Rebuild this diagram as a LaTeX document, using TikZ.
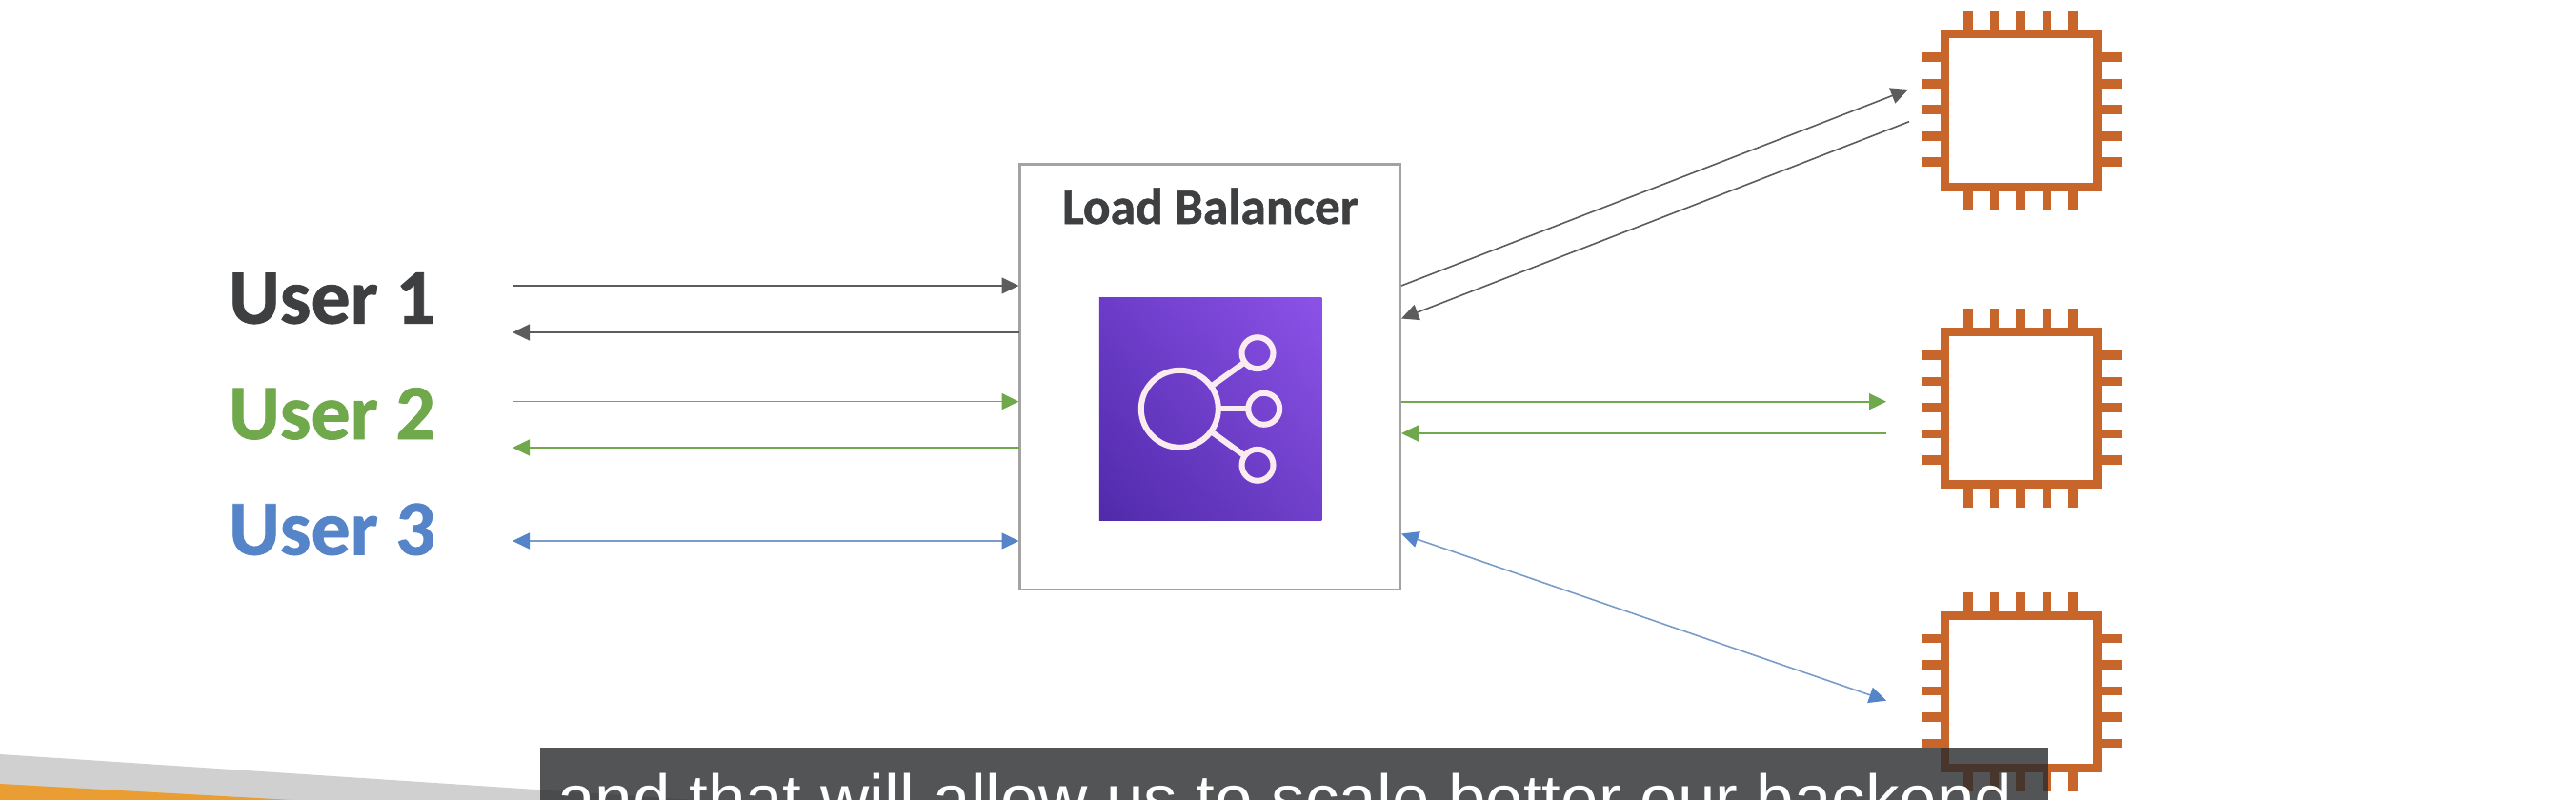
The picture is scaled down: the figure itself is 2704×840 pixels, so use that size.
\documentclass[tikz,border=0pt]{standalone}
\usepackage{fontspec}
\setmainfont{Liberation Sans}
\newfontfamily\carlito[BoldFeatures={FakeBold=1}]{Carlito}
\usetikzlibrary{arrows.meta,shadings}
\definecolor{inkdark}{HTML}{3E3F41}
\definecolor{inkgreen}{HTML}{70A84C}
\definecolor{inkblue}{HTML}{5585C8}
\definecolor{chiporange}{HTML}{C7652A}
\definecolor{boxgray}{HTML}{A3A3A3}
\definecolor{linedark}{HTML}{5C5C5C}
\definecolor{lineblue}{HTML}{7A9CC8}
\definecolor{capgray}{HTML}{292A2C}
\definecolor{bandgray}{HTML}{D0D0D0}
\definecolor{bandorange}{HTML}{E99D33}
\tikzset{
  x=1pt,y=-1pt,
  userlabel/.style={anchor=base west,inner sep=0pt,font=\carlito\bfseries\fontsize{82}{82}\selectfont},
  arr/.style={line width=1.6pt,arrows={-Triangle[length=18pt,width=17pt]}},
  chipbody/.style={draw=chiporange,line width=9pt,minimum size=160.2pt,inner sep=0pt,outer sep=0pt},
  pin/.style={draw=chiporange,line width=9.5pt},
  iconline/.style={draw=white!92!purple,line width=6pt},
}
\begin{document}
\begin{tikzpicture}
\useasboundingbox (0,0) rectangle (2704,840);
\fill[white] (0,0) rectangle (2704,840);
% corner decoration
\fill[bandgray] (0,792) -- (730,840) -- (0,840) -- cycle;
\fill[bandorange] (0,823) -- (306,840) -- (0,840) -- cycle;
% load balancer
\node[draw=boxgray,line width=2.8pt,minimum width=399.3pt,minimum height=446.3pt,inner sep=0pt,outer sep=0pt] (lb) at (1270.4,395.8) {};
\node[anchor=base,inner sep=0pt,text=inkdark,font=\carlito\bfseries\fontsize{53.5}{53.5}\selectfont] (lbtitle) at (1270.4,235) {Load Balancer};
\node[minimum size=233.5pt,inner sep=0pt,outer sep=0pt,shading=bilinear interpolation,lower left={rgb,255:red,80;green,42;blue,170},upper right={rgb,255:red,140;green,82;blue,232},lower right={rgb,255:red,112;green,64;blue,202},upper left={rgb,255:red,108;green,60;blue,200}] (icon) at (1270.5,429.7) {};
\node[circle,iconline,draw,minimum size=81pt,inner sep=0pt,outer sep=0pt] (hub) at (1238.3,429.3) {};
\node[circle,iconline,draw,minimum size=33pt,inner sep=0pt,outer sep=0pt] (leafa) at (1320,370.7) {};
\node[circle,iconline,draw,minimum size=33pt,inner sep=0pt,outer sep=0pt] (leafb) at (1326.7,429.3) {};
\node[circle,iconline,draw,minimum size=33pt,inner sep=0pt,outer sep=0pt] (leafc) at (1320,488.3) {};
\draw[iconline] (hub) -- (leafa);
\draw[iconline] (hub) -- (leafb);
\draw[iconline] (hub) -- (leafc);
% users
\node[userlabel,text=inkdark] (u1) at (240,339.6) {User 1};
\node[userlabel,text=inkgreen] (u2) at (240,461) {User 2};
\node[userlabel,text=inkblue] (u3) at (240,582.5) {User 3};
% chips
\foreach \n/\cy in {chipa/116,chipb/428.7,chipc/726.4}{
  \foreach \d in {-55.8,-28.2,-0.8,26.8,54.2}{
    \draw[pin] (2121.7+\d,\cy-104.3) -- (2121.7+\d,\cy-80);
    \draw[pin] (2121.7+\d,\cy+104.3) -- (2121.7+\d,\cy+80);
    \draw[pin] (2121.7-105,\cy+\d) -- (2121.7-80,\cy+\d);
    \draw[pin] (2121.7+105,\cy+\d) -- (2121.7+80,\cy+\d);
  }
  \node[chipbody] (\n) at (2121.7,\cy) {};
}
% connector ends
\coordinate (l1a) at (538,300); \coordinate (r1a) at (1069.5,300);
\coordinate (l1b) at (538,349); \coordinate (r1b) at (1070,349);
\coordinate (l2a) at (538,421.6); \coordinate (r2a) at (1069.5,421.6);
\coordinate (l2b) at (538,470); \coordinate (r2b) at (1070,470);
\coordinate (l3) at (538,568); \coordinate (r3) at (1069.5,568);
\coordinate (o1a) at (1471,300); \coordinate (t1a) at (2003,94);
\coordinate (o1b) at (1471,334.5); \coordinate (t1b) at (2004,127.7);
\coordinate (o2a) at (1471,421.7); \coordinate (t2a) at (1980,421.7);
\coordinate (o2b) at (1471,455); \coordinate (t2b) at (1980,455);
\coordinate (o3) at (1471,560.5); \coordinate (t3) at (1980,735.7);
\draw[arr,linedark] (l1a) -- (r1a);
\draw[arr,linedark] (r1b) -- (l1b);
\draw[arr,inkgreen] (l2a) -- (r2a);
\draw[arr,inkgreen] (r2b) -- (l2b);
\draw[line width=1.6pt,lineblue,arrows={Triangle[length=18pt,width=17pt,inkblue]-Triangle[length=18pt,width=17pt,inkblue]}] (l3) -- (r3);
\draw[arr,linedark] (o1a) -- (t1a);
\draw[arr,linedark] (t1b) -- (o1b);
\draw[arr,inkgreen] (o2a) -- (t2a);
\draw[arr,inkgreen] (t2b) -- (o2b);
\draw[line width=1.6pt,lineblue,arrows={Triangle[length=18pt,width=17pt,inkblue]-Triangle[length=18pt,width=17pt,inkblue]}] (o3) -- (t3);
% caption
\begin{scope}
\clip (0,0) rectangle (2704,840);
\fill[capgray,fill opacity=0.8] (567,785) rectangle (2150,840);
\node[anchor=base west,inner sep=0pt,text=white,font=\fontsize{71}{71}\selectfont] (caption) at (585,863) {and that will allow us to scale better our backend};
\end{scope}
\end{tikzpicture}
\end{document}
